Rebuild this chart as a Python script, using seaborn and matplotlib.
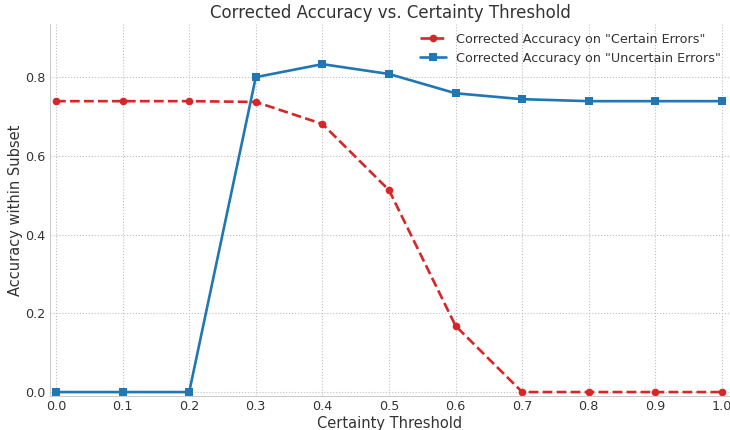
import numpy as np
import pandas as pd
import matplotlib
matplotlib.use('Agg')
import matplotlib.pyplot as plt
import seaborn as sns

thresholds = [0.0, 0.1, 0.2, 0.3, 0.4, 0.5, 0.6, 0.7, 0.8, 0.9, 1.0]
acc_certain = [0.739, 0.739, 0.739, 0.737, 0.681, 0.513, 0.168, 0.0, 0.0, 0.0, 0.0]
acc_uncertain = [0.0, 0.0, 0.0, 0.800, 0.833, 0.808, 0.759, 0.744, 0.739, 0.739, 0.739]

sns.set_style('whitegrid', {'grid.linestyle': ':', 'axes.edgecolor': '.8',
                            'grid.color': '.75',
                            'text.color': '.2', 'axes.labelcolor': '.2',
                            'xtick.color': '.2', 'ytick.color': '.2'})
plt.rcParams['font.family'] = ['DejaVu Sans']

df = pd.DataFrame({'threshold': thresholds,
                   'certain': acc_certain,
                   'uncertain': acc_uncertain})

fig = plt.figure(figsize=(7.3, 4.3), dpi=100)
ax = fig.add_axes([50/730, 34/430, 680/730, 372/430])

sns.lineplot(x='threshold', y='certain', data=df, ax=ax, color='#d62728',
             linestyle='--', marker='o', markersize=5.5, linewidth=1.9,
             markeredgewidth=0, label='Corrected Accuracy on "Certain Errors"')
sns.lineplot(x='threshold', y='uncertain', data=df, ax=ax, color='#1f77b4',
             linestyle='-', marker='s', markersize=6, linewidth=1.9,
             markeredgewidth=0, label='Corrected Accuracy on "Uncertain Errors"')

ax.set_xlim(-0.009, 1.012)
ax.set_ylim(-0.01, 0.935)
ax.set_xticks(np.arange(0, 1.01, 0.1))
ax.set_yticks([0.0, 0.2, 0.4, 0.6, 0.8])
ax.tick_params(labelsize=9.2, length=0, pad=3)
ax.set_xlabel('Certainty Threshold', fontsize=10.5, labelpad=2)
ax.set_ylabel('Accuracy within Subset', fontsize=10.5, labelpad=2)
ax.set_title('Corrected Accuracy vs. Certainty Threshold', fontsize=12, pad=4)
sns.despine(ax=ax, top=True, right=True)
ax.legend(loc='upper right', frameon=False, fontsize=9.2, borderaxespad=0.3,
          handlelength=2.0, labelspacing=0.45)

fig.savefig('out.png', dpi=100)
